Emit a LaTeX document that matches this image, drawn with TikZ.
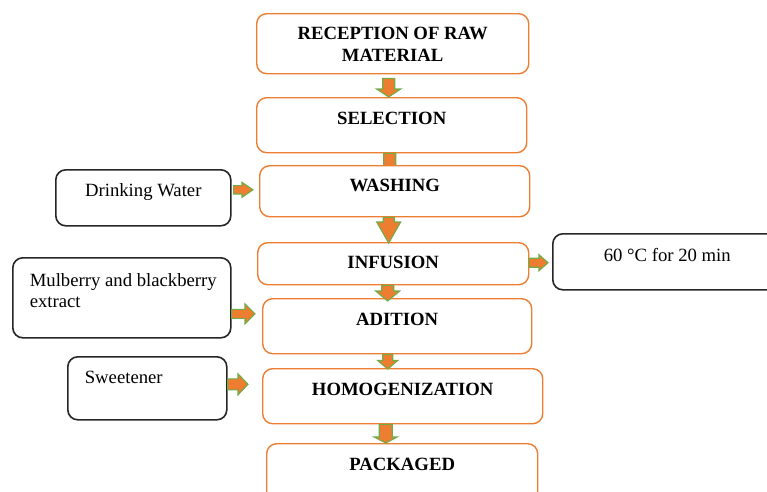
\documentclass[tikz,border=0pt]{standalone}
\usepackage{fontspec}
\setmainfont{Liberation Serif}
\usetikzlibrary{calc}
\definecolor{boxorange}{HTML}{ED7D31}
\definecolor{arrgreen}{HTML}{70AD47}
\tikzset{
  stepbox/.style={draw=boxorange, line width=1.4pt, rounded corners=10pt, fill=white,
    inner sep=0pt, anchor=north west, font=\fontsize{18.7}{22}\selectfont\bfseries},
  inbox/.style={draw=black!85, line width=1.6pt, rounded corners=10pt, fill=white,
    inner sep=0pt, anchor=north west, font=\fontsize{18.7}{21}\selectfont},
  blk/.style={fill=boxorange, draw=arrgreen, line width=1.1pt, line join=miter}
}
% vertical block arrow: #1 start, #2 end, #3 half shaft, #4 half head, #5 head length
\newcommand\vblk[5]{\filldraw[blk] let \p1=#1, \p2=#2 in
  (\x1-#3,\y1) -- (\x1+#3,\y1) -- (\x1+#3,\y2+#5) -- (\x1+#4,\y2+#5) -- (\x1,\y2)
  -- (\x1-#4,\y2+#5) -- (\x1-#3,\y2+#5) -- cycle;}
% horizontal block arrow (rightwards)
\newcommand\hblk[5]{\filldraw[blk] let \p1=#1, \p2=#2 in
  (\x1,\y1-#3) -- (\x2-#5,\y1-#3) -- (\x2-#5,\y1-#4) -- (\x2,\y1) -- (\x2-#5,\y1+#4)
  -- (\x2-#5,\y1+#3) -- (\x1,\y1+#3) -- cycle;}
\begin{document}
\begin{tikzpicture}[x=1pt,y=-1pt]
\useasboundingbox (0,0) rectangle (767,491);
\clip (0,0) rectangle (767,491);
\fill[white] (0,0) rectangle (767,491);

% main process boxes
\node[stepbox, minimum width=272pt, text height=26pt, text depth=34pt] (r1) at (256,13)
  {\begin{tabular}[t]{@{}c@{}}RECEPTION OF RAW\\MATERIAL\end{tabular}};
\node[stepbox, minimum width=270pt, text height=27pt, text depth=28pt] (r2) at (256,97) {SELECTION};

% arrow selection -> washing (head hidden behind the washing box)
\vblk{([xshift=-2pt]r2.south)}{([yshift=-12pt]r2.south |- 0,165)}{6pt}{12pt}{8pt}

\node[stepbox, minimum width=270pt, text height=26pt, text depth=25pt] (r3) at (259,165) {WASHING};
\node[stepbox, minimum width=271pt, text height=26pt, text depth=16pt] (r4) at (257,242) {INFUSION};
\node[stepbox, minimum width=269pt, text height=27pt, text depth=28pt] (r5) at (262,298) {ADITION};
\node[stepbox, minimum width=280pt, text height=27pt, text depth=28pt] (r6) at (262,368) {HOMOGENIZATION};
\node[stepbox, minimum width=271pt, text height=27pt, text depth=40pt] (r7) at (266,443) {PACKAGED};

% input / condition boxes
\node[inbox, minimum width=175pt, text height=27pt, text depth=29pt] (w1) at (55,169) {Drinking Water};
\node[inbox, inner xsep=17pt, text height=29pt, text depth=51pt] (w2) at (12,257)
  {\makebox[184pt][l]{\begin{tabular}[t]{@{}l@{}}Mulberry and blackberry\\extract\end{tabular}}};
\node[inbox, inner xsep=17pt, text height=27pt, text depth=36pt] (w3) at (67,356)
  {\makebox[125pt][l]{Sweetener}};
\node[inbox, minimum width=229pt, text height=28pt, text depth=28pt] (w4) at (552,233) {60 °C for 20 min};

% vertical block arrows
\vblk{([shift={(-4,4)}]r1.south)}{(r2.north)}{6pt}{12pt}{8pt}
\vblk{([xshift=-6pt]r3.south)}{([yshift=-1pt]r4.north)}{5.5pt}{12pt}{21pt}
\vblk{([xshift=-5.5pt]r4.south)}{([yshift=-3pt]r5.north)}{6pt}{12pt}{10pt}
\vblk{([xshift=-9.5pt]r5.south)}{([yshift=-1pt]r6.north)}{5pt}{10pt}{8.5pt}
\vblk{([xshift=-17pt]r6.south)}{(r7.north)}{6.5pt}{11.5pt}{6pt}

% horizontal block arrows
\hblk{([shift={(2,-8)}]w1.east)}{([xshift=-6pt]r3.west)}{4.2pt}{7.5pt}{11pt}
\hblk{([shift={(0,-1)}]r4.east)}{([xshift=-4pt]w4.west)}{4.5pt}{8pt}{9pt}
\hblk{([shift={(0,16)}]w2.east)}{([xshift=-7pt]r5.west)}{4.5pt}{10pt}{10pt}
\hblk{([shift={(0,-4)}]w3.east)}{([xshift=-14pt]r6.west)}{5.5pt}{10.5pt}{10pt}
\end{tikzpicture}
\end{document}
